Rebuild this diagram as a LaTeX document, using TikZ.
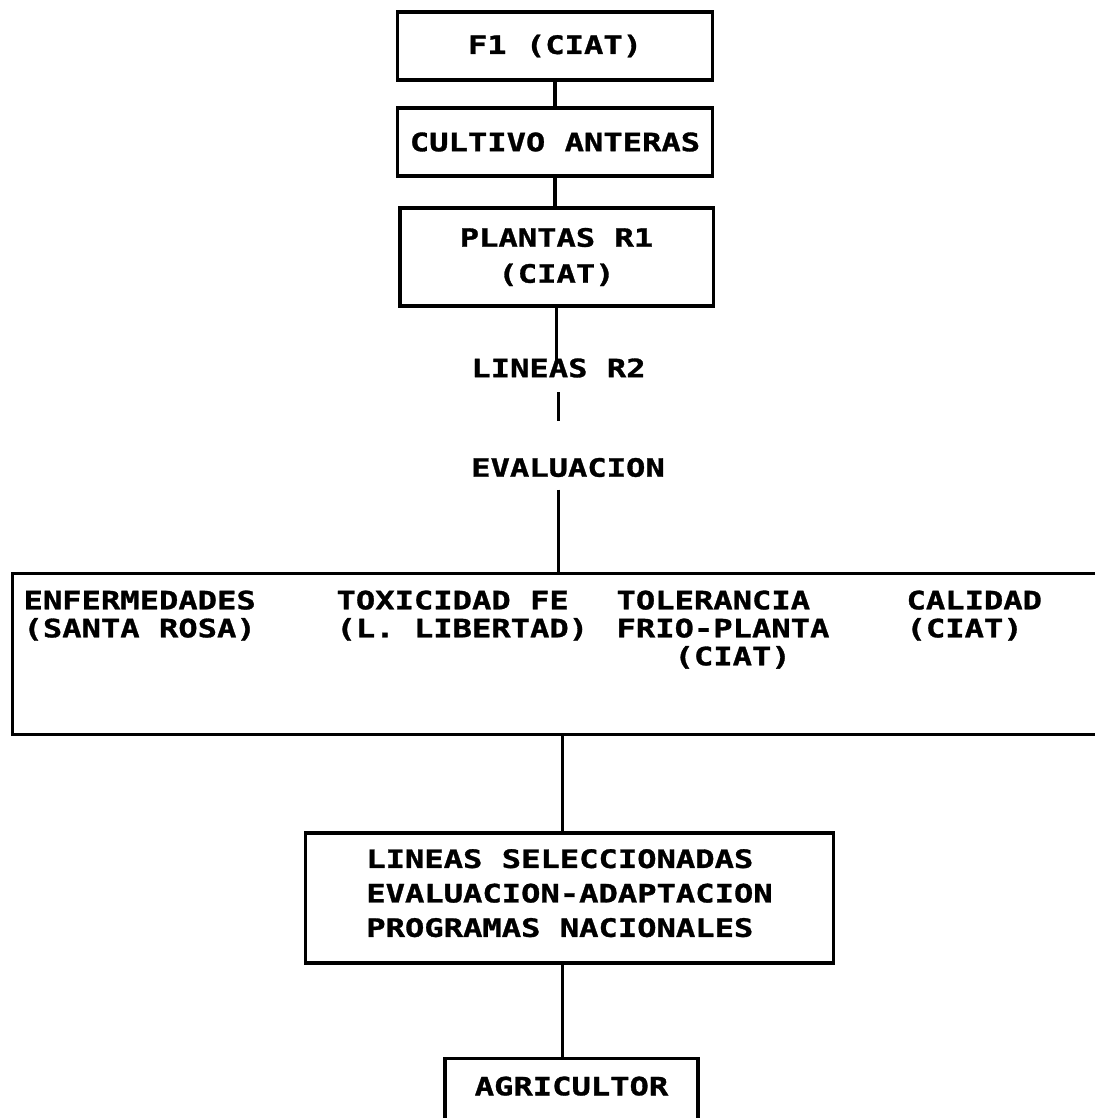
\documentclass[tikz,border=0pt]{standalone}
\usepackage{fontspec}
\newfontfamily\dotfont[FakeStretch=1.27,FakeBold=1.2]{DejaVu Sans Mono Bold}

\begin{document}
\begin{tikzpicture}[x=0.025cm,y=-0.025cm,line width=2.2pt,
  every node/.style={inner sep=0pt},
  labtext/.style={font=\dotfont\fontsize{18}{20}\selectfont},
  box/.style={draw,labtext,minimum width=7.875cm,minimum height=1.7cm}]
\useasboundingbox (0,0) rectangle (1095,1118);
\clip (0,0) rectangle (1095,1118);
\node[box] (f1) at (555,46) {F1 (CIAT)};
\node[box] (cultivo) at (555,142) {CULTIVO ANTERAS};
\node[box,minimum width=7.825cm,minimum height=2.45cm,align=center,
  font=\dotfont\fontsize{18}{25.6}\selectfont] (plantas) at (556.5,257) {PLANTAS R1\\(CIAT)};
\node[labtext] (lineas) at (558.5,368) {LINEAS R2};
\node[labtext] (evaluacion) at (568,467.5) {EVALUACION};
% caja de ensayos
\node[draw,anchor=north west,minimum width=27.5cm,minimum height=4.025cm] (ensayos) at (11,572) {};
\tikzset{coltext/.style={labtext,align=left,anchor=north west,font=\dotfont\fontsize{18}{19.9}\selectfont}}
\node[coltext] (enfermedades) at (22,589) {ENFERMEDADES\\(SANTA ROSA)};
\node[coltext] (toxicidad) at (335,589) {TOXICIDAD FE\\(L. LIBERTAD)};
\node[coltext] (tolerancia) at (615,589) {TOLERANCIA\\FRIO-PLANTA\\\phantom{FRI}(CIAT)};
\node[coltext] (calidad) at (905,589) {CALIDAD\\(CIAT)};
\node[draw,labtext,align=left,minimum width=13.175cm,minimum height=3.25cm,text depth=0.25cm,
  font=\dotfont\fontsize{18}{24.5}\selectfont] (seleccion) at (569.5,898)
  {LINEAS SELECCIONADAS\\EVALUACION-ADAPTACION\\PROGRAMAS NACIONALES};
\node[draw,labtext,anchor=north,minimum width=6.325cm,inner ysep=0.45cm,text depth=2cm] (agricultor) at (571.5,1057) {AGRICULTOR};
% conectores
\draw (f1.south) -- (cultivo.north);
\draw (cultivo.south) -- (cultivo.south |- plantas.north);
\draw (plantas.south) -- ([yshift=-0.15cm]plantas.south |- lineas.north);
\draw[shorten <=0.325cm,shorten >=0.875cm] (lineas.south) -- (lineas.south |- evaluacion.north);
\draw[shorten <=0.275cm] (lineas.south |- evaluacion.south) -- (lineas.south |- ensayos.north);
\draw (ensayos.south) -- (ensayos.south |- seleccion.north);
\draw (ensayos.south |- seleccion.south) -- (ensayos.south |- agricultor.north);
\end{tikzpicture}
\end{document}
